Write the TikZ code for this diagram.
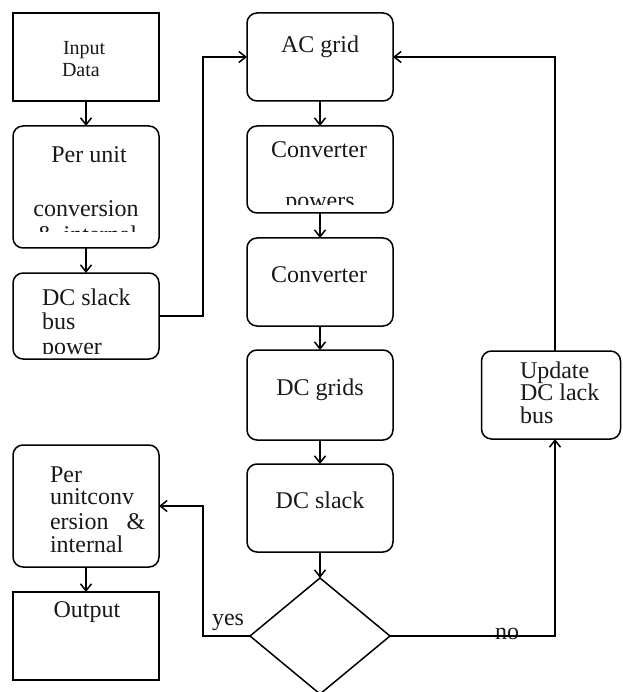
\documentclass[tikz,border=0pt]{standalone}
\usepackage{fontspec}
\setmainfont{Liberation Serif}
\usetikzlibrary{arrows.meta,shapes.geometric}
\begin{document}
\begin{tikzpicture}[x=1pt,y=-1pt,
  line width=1.5pt,
  sbox/.style={draw, rectangle, inner sep=0pt, outer sep=0pt, minimum width=146pt},
  rbox/.style={sbox, rounded corners=10pt},
  txt/.style={inner sep=0pt, outer sep=0pt, font=\fontsize{24}{24}\selectfont, text=black!90},
  stxt/.style={txt, font=\fontsize{20}{20}\selectfont},
  arr/.style={-{Straight Barb[length=7pt,width=11pt]}}]
\useasboundingbox (0,0) rectangle (622,692);

% boxes
\node[sbox, minimum height=88pt] (inp) at (86,57) {};
\node[rbox, minimum height=122pt] (pu) at (86,187) {};
\node[rbox, minimum height=86pt] (dcs) at (86,316) {};
\node[rbox, minimum height=88pt] (ac) at (320,57) {};
\node[rbox, minimum height=87pt] (convA) at (320,169.5) {};
\node[rbox, minimum height=88pt] (convB) at (320,282) {};
\node[rbox, minimum height=90pt] (dcg) at (320,395) {};
\node[rbox, minimum height=88pt] (dcsl) at (320,508) {};
\node[draw, diamond, inner sep=0pt, outer sep=0pt, minimum width=140pt, minimum height=116pt] (dia) at (320,636) {};
\node[rbox, minimum width=139pt, minimum height=88pt] (upd) at (551,395) {};
\node[rbox, minimum height=122pt] (pub) at (86,506) {};
\node[sbox, minimum height=88pt] (out) at (86,636) {};

\coordinate (updtop) at (555,351);
\coordinate (updbot) at (555,439);

% texts
\node[stxt, anchor=base west] (t1) at (63,55) {Input};
\node[stxt, anchor=base west] (t2) at (62,77) {Data};
\node[txt, anchor=base] (t3) at (89,163) {Per unit};
\node[txt, anchor=base] (t4) at (86,217) {conversion};
\begin{scope}
\clip (13,126) rectangle (159,232);
\node[txt, anchor=base] (t5) at (87,243) {\&\hspace{8pt}internal};
\end{scope}
\node[txt, anchor=base west] (t6) at (42,305) {DC slack};
\node[txt, anchor=base west] (t7) at (42,329) {bus};
\begin{scope}
\clip (13,273) rectangle (159,353);
\node[txt, anchor=base west] (t8) at (42,354) {power};
\end{scope}
\node[txt, anchor=base] (t9) at (320,53) {AC grid};
\node[txt, anchor=base] (t10) at (319,158) {Converter};
\begin{scope}
\clip (247,126) rectangle (393,205);
\node[txt, anchor=base] (t11) at (320,209) {powers};
\end{scope}
\node[txt, anchor=base] (t12) at (319,282) {Converter};
\node[txt, anchor=base] (t13) at (320,395) {DC grids};
\node[txt, anchor=base] (t14) at (320,508) {DC slack};
\node[txt, anchor=base west] (t15) at (520,378) {Update};
\node[txt, anchor=base west] (t16) at (520,400) {DC lack};
\node[txt, anchor=base west] (t17) at (520,423) {bus};
\node[txt, anchor=base west] (t18) at (50,482) {Per};
\node[txt, anchor=base west] (t19) at (50,504) {unitconv};
\node[txt, anchor=base west] (t20) at (50,529) {ersion\hspace{18pt}\&};
\node[txt, anchor=base west] (t21) at (50,552) {internal};
\node[txt, anchor=base] (t22) at (87,617) {Output};
\node[txt, anchor=base west] (yes) at (212,625) {yes};
\node[txt, anchor=base west] (no) at (495,639) {no};

% connectors
\draw[arr] (inp.south) -- (pu.north);
\draw[arr] (pu.south) -- (dcs.north);
\draw[arr] (dcs.east) -- ++(44,0) |- (ac.west);
\draw[arr] (ac.south) -- (convA.north);
\draw[arr] (convA.south) -- (convB.north);
\draw[arr] (convB.south) -- (dcg.north);
\draw[arr] (dcg.south) -- (dcsl.north);
\draw[arr] (dcsl.south) -- (dia.north);
\draw[arr] (dia.east) -| (updbot);
\draw[arr] (updtop) |- (ac.east);
\draw[arr] (dia.west) -- ++(-47,0) |- (pub.east);
\draw[arr] (pub.south) -- (out.north);
\end{tikzpicture}
\end{document}
